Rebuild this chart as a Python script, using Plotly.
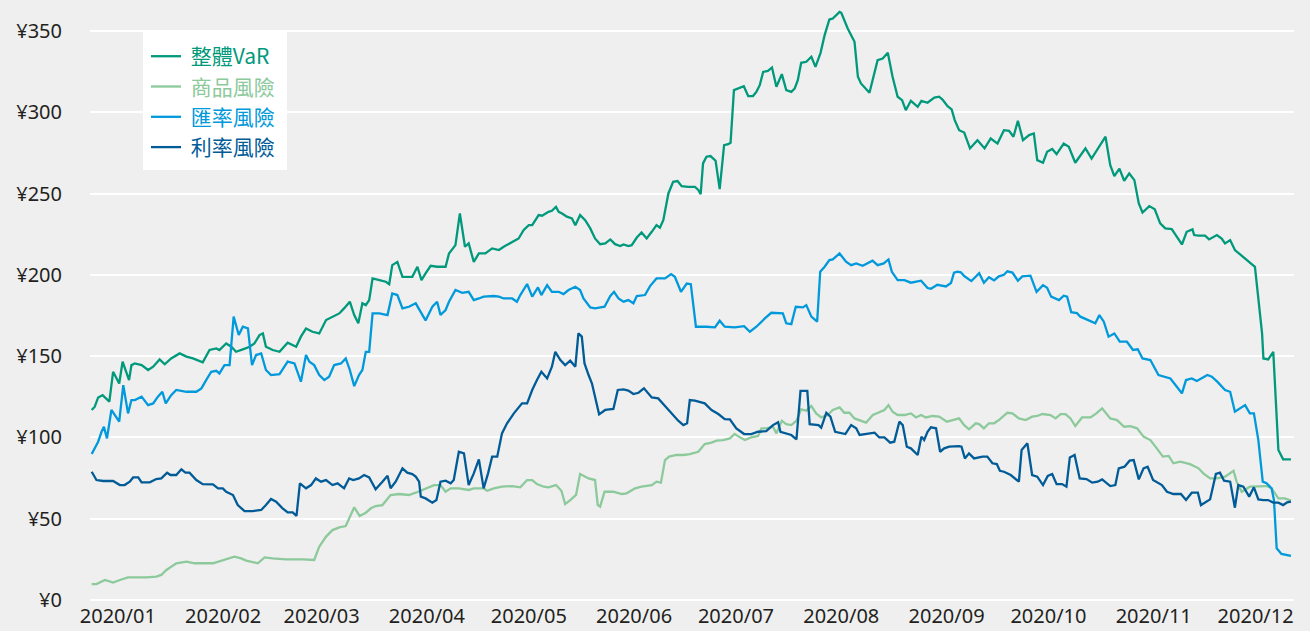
import pandas as pd
import plotly.graph_objects as go

# ---------------- data (day offset from 2020-01-01, value in ¥) ----------------
series_names = ["整體VaR", "商品風險", "匯率風險", "利率風險"]
series_colors = ["#00997b", "#8cc99b", "#0099db", "#005b97"]

var_points = [(-7.7,116.9),(-6.8,118.9),(-5.8,124.6),(-4.5,126),(-3.5,124),(-2.5,122),(-1.4,140.4),(-0.4,136.3),(0.4,133.2),(1.4,146.6),
(2.3,141.5),(3.3,135.3),(4.0,144.5),(5.0,145.5),(7.0,144.5),(8.9,141.5),(10.4,143.5),(12.3,148),(13.8,145),(15.7,148.6),
(18.2,151.7),(20.2,149.7),(22.1,148.6),(25.0,146.2),(27.0,153.8),(29.0,154.8),(29.9,153.8),(31.9,157.8),(33.4,155.8),(34.8,152.7),
(36.8,154.2),(38.8,155.8),(40.2,157.8),(41.7,163),(42.7,164),(43.6,155.8),(45.6,153.8),(47.6,152.7),(50.0,158.3),(52.5,155.8),
(53.9,162),(55.4,167),(57.3,165),(59.3,164),(61.3,172.2),(63.2,174.3),(65.2,176.3),(66.6,179.4),(68.3,183.5),(69.6,175.3),
(70.8,170.2),(72.0,182.5),(73.0,181.4),(74.0,184.5),(75.0,197.8),(77.0,196.8),(78.9,195.8),(79.9,194.3),(80.8,206),(82.3,208),
(83.8,198.8),(85.7,198.8),(86.7,198.8),(88.2,205),(89.4,196.8),(90.6,200.9),(92.1,205.6),(94.0,205),(96.5,205),(97.5,213.2),
(99.4,218.3),(100.7,237.8),(102.2,217.3),(103.3,219.4),(104.8,208),(106.3,213.2),(108.2,213.2),(110.2,216.3),(112.2,215.3),(113.6,217.3),
(116.1,220.4),(118.0,222.4),(119.5,227.6),(121.0,230.6),(122.0,230.6),(123.9,236.8),(124.9,236.4),(126.8,238.8),(127.8,239.4),(129.0,241.9),
(129.8,238.8),(130.8,237.8),(132.2,235.8),(133.7,234.7),(134.7,230.6),(136.1,236.8),(137.6,233.7),(139.1,228.6),(140.5,222.4),(142.0,218.9),
(143.5,219.4),(145.0,221.8),(146.4,218.9),(147.9,217.7),(148.9,218.7),(150.3,217.7),(151.3,218.3),(152.8,223),(154.2,226.1),(155.7,222.4),
(157.2,226.5),(158.6,230.6),(159.6,229),(160.6,233.7),(162.1,250.1),(163.5,257.3),(164.8,257.7),(166.0,254.6),(167.9,254.2),(169.9,254.2),
(170.9,252.2),(171.6,249.7),(172.3,268.6),(173.3,272.7),(174.5,273.1),(176.0,270.2),(177.2,252.8),(178.5,279.8),(179.7,280.4),(180.4,281.3),
(181.4,313.7),(182.6,314.7),(184.3,316.1),(185.6,310),(187.0,310),(188.0,312.6),(189.0,316.7),(190.0,324.9),(191.4,325.5),(192.6,327.6),
(193.9,315.7),(195.5,323.5),(196.8,313.7),(198.3,312.6),(199.3,314.7),(200.2,319.8),(201.2,330.5),(202.7,331.1),(204.2,334.2),(205.4,328),
(206.9,336.6),(208.1,347.5),(209.5,357.1),(210.5,357.7),(211.5,359.8),(212.5,361.8),(213.0,361.2),(214.9,351.6),(216.9,343.4),(217.9,321.9),
(218.8,317.8),(221.3,312),(223.7,332.1),(225.2,333.1),(226.7,336.6),(228.1,321.9),(229.6,309.6),(230.9,307.5),(232.0,301.3),(233.5,307.1),
(235.5,303.4),(236.6,307.1),(238.4,305.9),(240.4,309.1),(241.8,309.6),(242.8,307.9),(244.3,303.8),(245.5,301.8),(246.4,295.2),(247.7,289),
(249.2,287.6),(250.9,277.8),(253.1,282.9),(255.2,277.8),(257.0,283.9),(259.0,280.8),(260.9,289),(262.4,288.6),(263.7,285),(265.0,294.8),
(266.5,282.9),(268.3,286),(269.7,287),(270.7,270.6),(272.4,269),(273.6,275.7),(275.1,277.4),(276.4,274.3),(278.5,280.8),(280.0,278.8),
(281.9,269),(283.2,273.1),(284.9,277.8),(286.7,271.6),(288.8,278.8),(290.8,285),(292.2,267.5),(293.4,260.7),(294.9,265.4),(296.3,257.9),
(297.8,262.4),(299.3,258.3),(300.6,244),(301.7,238.4),(303.7,242.3),(305.3,240.3),(306.9,231.7),(308.4,228.6),(310.3,228.2),(311.8,223.5),
(313.3,218.7),(314.7,226.5),(316.4,228),(316.9,224.5),(318.2,224.1),(320.1,224.1),(321.3,221.8),(323.6,224.5),(325.0,222.4),(326.0,219.4),
(327.5,221.4),(328.9,215.3),(331.4,210.7),(333.3,207.7),(334.8,205),(336.9,164),(337.3,148.6),(338.7,148),(340.2,152.7),(341.7,92.3),
(343.1,86.5),(345.4,86.5)]

commodity_points = [(-7.7,9.8),(-6.3,9.8),(-3.8,12.3),(-2.4,11.3),(-1.4,10.7),(0.6,12.3),(3.0,13.9),(5.5,13.9),(8.4,13.9),(11.3,14.4),
(12.8,15.4),(14.3,18.5),(15.7,20.5),(17.2,22.6),(20.2,23.6),(22.6,22.6),(28.0,22.6),(30.9,24.6),(34.3,26.7),(36.3,25.6),
(37.8,24.2),(41.2,22.6),(43.2,26.2),(45.6,25.6),(49.5,25),(54.4,25),(57.8,24.6),(59.3,32.8),(61.3,39),(63.2,43),
(65.2,44.7),(67.1,45.5),(68.3,51.3),(69.6,57),(71.2,51.7),(73.0,53.7),(74.5,56.4),(75.9,57.8),(77.9,58.4),(80.3,64.6),
(82.8,65.2),(85.7,64.6),(87.7,66),(90.6,68.7),(93.1,70.7),(95.0,70.7),(96.5,66.6),(98.0,68.7),(100.4,68.7),(103.3,67.7),
(104.8,68.7),(107.7,68.7),(108.7,67.2),(110.7,68.7),(113.1,69.7),(116.1,70.1),(118.5,69.3),(120.5,73.8),(122.0,73.8),(123.4,71.3),
(125.4,69.7),(126.8,69.3),(129.0,70.7),(130.6,67.2),(131.7,59),(133.2,61.5),(134.9,64.6),(136.1,77.5),(137.4,75.9),(138.6,74.8),
(140.5,73.8),(141.3,58.4),(142.0,57.4),(143.3,66.6),(145.9,66.6),(148.4,65.2),(149.8,65.6),(152.3,68.7),(154.2,69.7),(157.2,70.7),
(158.6,72.8),(159.9,72.2),(161.1,86.1),(162.3,88.2),(164.5,89.2),(166.5,89.2),(168.4,89.8),(170.9,91.2),(172.8,95.9),(174.8,96.8),
(176.3,98),(178.2,98.4),(180.2,99.4),(181.6,102.1),(182.8,100.5),(184.6,98.4),(186.5,100),(188.5,100.9),(189.5,105.6),(190.9,105.6),
(192.9,106.6),(193.9,102.5),(195.5,110.3),(196.8,108.2),(198.3,107.6),(199.8,110.3),(201.2,117.3),(202.7,116.5),(204.2,119.3),(205.6,114.8),
(207.1,112.3),(209.0,113.8),(210.5,116.9),(212.5,118.5),(213.9,115.2),(215.4,115.2),(216.9,111.7),(218.8,110.3),(220.3,109.1),(222.3,113.8),
(224.2,115.8),(225.7,116.9),(226.9,119.9),(228.1,115.8),(229.6,113.8),(231.6,113.8),(233.5,114.8),(235.0,112.3),(236.5,113.8),(237.9,112.3),
(239.9,113.2),(241.8,112.8),(244.1,109.7),(245.7,110.7),(247.7,111.7),(249.2,107.6),(250.6,105),(252.6,108.7),(253.6,108.2),(255.0,105.6),
(256.5,108.7),(258.0,108.7),(259.4,110.7),(261.9,115.2),(263.4,114.8),(265.3,111.7),(267.3,110.7),(269.2,112.8),(270.7,113.2),(272.2,114.4),
(274.6,113.8),(276.1,111.7),(277.6,114.4),(279.0,114.4),(280.5,111.7),(281.9,107),(283.9,112.3),(286.4,112.3),(288.1,114.8),(289.8,117.9),
(291.1,114.8),(292.2,111.7),(294.2,110.7),(296.3,106.6),(298.1,107),(300.1,105.6),(302.0,100.5),(304.0,98.4),(305.9,93.3),(307.7,88.2),
(309.4,88.6),(310.8,84.1),(312.8,85.1),(315.7,83.6),(318.2,81),(319.6,77.9),(321.6,74.8),(323.6,74.8),(326.0,75.9),(328.5,79.5),
(329.4,72.8),(330.9,66.6),(333.3,69.7),(335.8,69.7),(338.2,70.1),(339.7,68.7),(341.7,62.5),(343.6,62.5),(345.4,61.1)]

fx_points = [(-7.7,89.8),(-5.8,97.4),(-4.8,103.5),(-4.1,106.6),(-3.2,99.4),(-1.9,116.9),(0.4,109.7),(1.6,132.2),(3.0,114.8),(4.0,123),
(5.0,123),(6.0,124),(7.0,125.1),(8.9,119.9),(10.4,120.9),(11.8,125.1),(13.1,128.1),(14.1,120.9),(15.7,126),(17.2,129.2),
(20.2,128.1),(23.1,128.1),(24.6,130.2),(26.0,135.3),(27.5,140.4),(29.0,141),(29.9,139.4),(31.4,144.5),(32.9,144.5),(34.1,174.3),
(35.6,163),(36.8,168.1),(38.3,167.1),(39.5,144.5),(40.7,150.7),(42.2,151.7),(43.6,141.5),(45.1,138.4),(47.6,139),(50.0,146.6),
(52.0,145.5),(53.9,134.3),(55.4,150.7),(56.4,146.6),(57.8,144.5),(59.3,138.4),(60.8,135.3),(62.2,137.4),(63.7,144.5),(65.7,145.5),
(67.1,148.6),(68.3,141.5),(69.6,131.6),(71.0,138.4),(72.0,141.5),(73.0,152.7),(74.0,152.7),(75.0,176.3),(77.0,176.3),(79.4,175.3),
(80.8,188.6),(82.3,187.6),(83.8,179.4),(85.7,180.4),(87.7,182.5),(90.6,172),(92.6,180.4),(94.0,183.5),(95.0,175.3),(96.5,178.4),
(97.5,183.5),(99.4,190.7),(101.4,189),(103.3,189.6),(104.8,184.5),(106.3,185.5),(107.7,186.6),(110.7,187),(112.2,186.6),(113.6,185.5),
(116.1,185.5),(117.5,183.5),(118.5,187.6),(120.5,194.4),(122.0,186.6),(123.7,192.3),(124.7,187.6),(126.4,193.7),(127.8,189.6),(129.8,189.6),
(131.2,188.2),(132.7,190.7),(134.7,192.7),(136.1,190.7),(137.1,185.5),(139.1,180),(140.5,179.4),(143.3,180.4),(145.0,187),(146.1,189.6),
(147.4,185.5),(148.9,183.5),(150.3,184.5),(151.8,182.5),(152.8,187),(155.2,187.6),(156.7,193.1),(158.6,197.8),(161.1,197.8),(162.9,200.5),
(164.0,198.8),(165.8,189.6),(167.5,194.7),(168.7,194.3),(170.2,168.1),(173.3,168.1),(175.8,167.7),(177.2,171.8),(178.7,168.1),(181.6,167.7),
(184.4,168.5),(186.1,165),(188.0,168.1),(190.5,173.2),(192.4,176.7),(195.8,176.3),(196.8,170.2),(198.3,169.7),(199.6,180.4),(201.7,180),
(202.7,181.4),(204.2,174.3),(205.9,171.2),(206.8,201.9),(208.1,205),(209.5,209.1),(210.5,209.5),(212.5,213.2),(214.4,208.1),(215.9,206),
(217.4,207.1),(219.3,205.6),(220.8,207.1),(222.2,208.7),(223.7,206),(225.5,207.1),(226.9,209.5),(227.9,201.9),(229.6,196.8),(231.6,196.8),
(233.5,195.2),(236.5,196.4),(238.4,191.9),(239.4,191.5),(241.3,193.9),(243.8,192.9),(245.3,195),(246.2,201.4),(247.2,202),(248.2,201.6),
(249.2,199.3),(251.3,196.2),(253.6,201),(255.0,195.2),(256.5,198.6),(258.0,196.6),(259.4,199.1),(260.9,200.1),(261.9,202.2),(263.4,201.4),
(265.0,196.4),(266.3,199.1),(268.7,199.5),(270.5,189.6),(272.4,193.7),(273.6,192.1),(274.8,186.6),(277.1,184.5),(278.5,187.2),(279.5,186.6),
(280.7,177.1),(282.4,176.5),(283.4,174.3),(285.9,172.2),(287.8,170.2),(289.0,175.3),(290.3,171.2),(291.7,162),(293.4,164),(295.0,158.9),
(297.1,158.9),(298.9,153.8),(300.3,154.2),(301.7,148.6),(304.0,147.6),(306.4,138.4),(308.4,137.4),(309.9,136.3),(311.8,131.2),(313.3,127.1),
(314.5,135.3),(316.2,136.3),(317.7,134.7),(319.1,136.3),(320.8,138.4),(322.1,137.4),(323.7,134.3),(326.0,129.2),(327.5,128.1),(328.9,115.8),
(330.4,117.9),(331.9,119.9),(333.3,114.8),(334.5,114.8),(335.8,98.4),(337.1,72.8),(338.2,71.8),(339.7,68.7),(340.4,61.5),(341.2,31.8),
(342.6,28.3),(345.4,27.1)]

rate_points = [(-7.7,78.9),(-6.3,73.8),(-4.3,73.2),(-1.4,73.2),(0.6,70.7),(2.0,70.7),(3.5,72.8),(4.5,75.4),(6.0,75.4),(7.0,72.4),
(9.4,72.4),(11.3,74.4),(12.8,74.8),(14.5,78.3),(15.5,76.9),(17.2,76.9),(18.7,80.4),(19.9,78.3),(21.1,78.3),(23.1,73.8),
(25.0,71.3),(28.0,71.1),(29.5,68.7),(30.9,68.7),(31.9,66.6),(33.9,64.6),(35.3,58.4),(37.3,54.7),(39.7,54.7),(42.2,55.4),
(43.6,58.4),(45.1,62.1),(46.6,60.5),(48.5,56.4),(50.0,53.9),(51.5,53.9),(52.6,51.7),(53.6,71.8),(55.4,68.7),(56.9,70.7),
(58.3,74.8),(59.8,72.8),(61.3,73.8),(63.2,70.7),(64.7,71.8),(66.6,68.7),(68.1,74.8),(69.3,73.8),(71.0,74.8),(72.5,76.9),
(74.0,75.4),(75.9,68.1),(77.9,72.8),(79.4,76.5),(80.3,68.7),(81.8,72.8),(83.8,81),(85.2,78.3),(86.7,77.5),(87.7,75.9),
(88.7,72.8),(89.2,63.6),(90.6,62.5),(92.6,59.9),(93.8,61.5),(95.0,72.8),(96.5,73.4),(98.0,71.8),(98.9,73.8),(100.4,91.2),
(101.9,90.2),(103.3,70.7),(104.8,77.9),(106.3,86.5),(107.7,68.7),(109.0,77.9),(110.2,88.2),(111.7,88.2),(113.1,102.5),(114.6,108.7),
(116.6,114.8),(119.0,121),(120.5,121),(122.0,129.2),(123.4,135.3),(124.7,140.4),(126.4,136.3),(127.8,143.5),(128.8,152.7),(130.3,147.6),
(131.7,144.5),(133.2,147.2),(134.7,143.5),(135.6,164),(136.6,162),(137.4,145.5),(138.6,138.4),(139.6,133.2),(140.5,125.1),(141.7,114.2),
(143.5,116.9),(145.9,117.5),(147.2,129.2),(148.9,129.6),(150.3,128.8),(151.8,126.7),(153.3,127.5),(154.9,130.2),(157.2,124.6),(159.1,124),
(161.1,119.3),(163.0,114.8),(165.0,110.3),(166.5,107.6),(167.6,108.7),(168.4,123),(169.9,122.6),(172.8,121),(174.8,116.9),(176.8,114.4),
(178.7,111.3),(180.2,111.1),(182.1,105.6),(184.4,102.1),(186.5,102.1),(188.5,103.5),(190.9,103.9),(192.9,107.6),(194.4,109.3),(195.1,103.5),
(196.3,102.9),(198.3,101.5),(199.8,98.8),(201.0,128.7),(203.0,128.7),(203.7,108.2),(206.3,107.6),(207.1,106),(208.6,115.2),(209.8,112.8),
(211.2,103.5),(213.0,102.5),(214.2,102.1),(215.9,107.6),(217.4,105.6),(218.4,101.5),(220.8,102.5),(222.8,102.9),(224.2,100),(225.7,100),
(227.4,96.8),(228.6,97.4),(230.1,109.7),(231.1,107.6),(232.3,94.3),(233.5,93.3),(235.5,89.2),(236.6,100.5),(237.4,98.4),(238.4,103.5),
(239.4,106.2),(240.9,105.6),(242.1,91.2),(243.3,93.3),(244.8,94.3),(247.7,94.7),(248.4,94.3),(249.4,87.1),(250.6,90.2),(252.1,87.1),
(254.6,88.2),(256.0,88.2),(257.5,84.1),(258.8,83.6),(259.7,79.5),(260.9,78.9),(262.9,76.9),(264.3,74.8),(265.3,72.8),(266.1,92.3),
(267.8,96.4),(269.2,76.9),(270.7,75.9),(272.4,70.7),(273.8,76.3),(275.1,77.5),(276.4,71.3),(278.0,71.3),(279.3,69.7),(280.3,87.7),
(281.7,89.2),(283.2,74.8),(285.2,74.4),(286.9,72.2),(288.5,72.8),(289.8,74.2),(292.2,70.1),(293.7,70.7),(294.7,81),(296.4,82),
(297.9,85.7),(299.1,86.1),(300.6,74.2),(302.0,81),(303.2,82),(304.8,73.8),(307.4,70.7),(308.9,66.6),(310.8,65.2),(313.0,65.2),
(314.5,61.5),(316.2,66),(318.0,66),(318.9,58.4),(321.6,61.9),(323.3,77.5),(324.5,78.3),(325.7,73.4),(327.5,72.8),(328.9,56.8),
(329.9,70.7),(331.4,69.7),(333.1,63.6),(334.5,69.3),(335.8,61.9),(337.3,61.5),(338.7,61.5),(340.2,59.9),(341.7,59.9),(343.1,58.4),
(344.3,60.1),(345.4,60.5)]

y_ticks = [0, 50, 100, 150, 200, 250, 300, 350]
y_tick_labels = ["¥0", "¥50", "¥100", "¥150", "¥200", "¥250", "¥300", "¥350"]

# ---------------- figure ----------------
BASE = pd.Timestamp("2020-01-01")


def to_dates(days):
    return [BASE + pd.Timedelta(days=d) for d in days]


all_points = [var_points, commodity_points, fx_points, rate_points]
BG = "#efefef"
TXT = "#231f20"

fig = go.Figure()
for i, (name, color, pts) in enumerate(zip(series_names, series_colors, all_points)):
    days = [p[0] for p in pts]
    vals = [p[1] for p in pts]
    fig.add_trace(go.Scatter(
        x=to_dates(days), y=vals, mode="lines",
        name=f"<span style='color:{color}'> {name}</span>",
        line=dict(color=color, width=2.3),
        hoverinfo="skip",
    ))

# white legend box
fig.add_shape(type="rect", xref="paper", yref="paper",
              x0=0.0440, x1=0.1636, y0=0.7251, y1=0.9578,
              fillcolor="white", line=dict(width=0), layer="above")

fig.update_layout(
    width=1310, height=631,
    margin=dict(l=90, r=16, t=7, b=31),
    paper_bgcolor=BG, plot_bgcolor=BG,
    font=dict(family="Noto Sans, Open Sans, sans-serif", size=20, color=TXT),
    showlegend=True,
    legend=dict(
        x=0.0465, y=0.951, xanchor="left", yanchor="top",
        bgcolor="rgba(0,0,0,0)", borderwidth=0,
        font=dict(family="Noto Sans CJK TC, Noto Sans, sans-serif", size=21),
        itemwidth=30,
    ),
    xaxis=dict(
        type="date", automargin=False,
        range=[BASE + pd.Timedelta(days=-8.2), BASE + pd.Timedelta(days=346.3)],
        tickformat="%Y/%m", dtick="M1", tick0="2020-01-01",
        showgrid=False, zeroline=False, showline=False, ticks="",
        ticklabelstandoff=2,
        tickfont=dict(size=20, color=TXT),
    ),
    yaxis=dict(
        automargin=False,
        range=[0, 364.8],
        tickvals=y_ticks, ticktext=y_tick_labels,
        showgrid=True, gridcolor="white", gridwidth=2,
        zeroline=True, zerolinecolor="white", zerolinewidth=2,
        showline=False, ticks="",
        ticklabelstandoff=27,
        tickfont=dict(size=20, color=TXT),
    ),
)

fig.write_html("out.html", config={"displayModeBar": False},
               post_script="document.body.style.margin='0';")
